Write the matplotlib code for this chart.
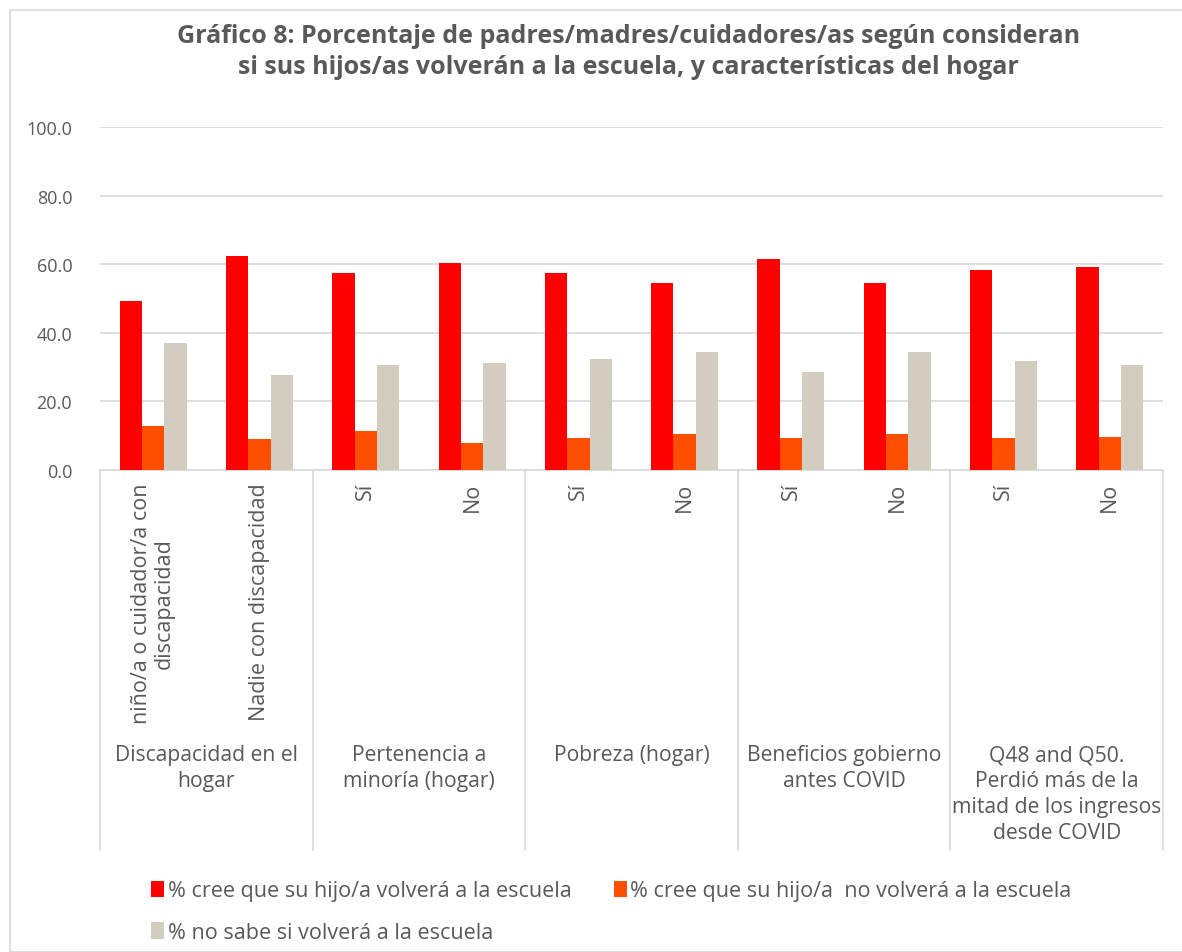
import numpy as np
import matplotlib.pyplot as plt
from matplotlib.patches import Rectangle

plt.rcParams['font.family'] = ['Open Sans', 'DejaVu Sans']

# datos
sub_labels = ['niño/a o cuidador/a con\ndiscapacidad', 'Nadie con discapacidad',
              'Sí', 'No', 'Sí', 'No', 'Sí', 'No', 'Sí', 'No']
group_labels = ['Discapacidad en el\nhogar', 'Pertenencia a\nminoría (hogar)',
                'Pobreza (hogar)', 'Beneficios gobierno\nantes COVID',
                'Q48 and Q50.\nPerdió más de la\nmitad de los ingresos\ndesde COVID']
volvera = [49.4, 62.3, 57.3, 60.3, 57.5, 54.4, 61.4, 54.6, 58.4, 59.1]
no_volvera = [12.9, 9.1, 11.4, 7.8, 9.3, 10.5, 9.4, 10.4, 9.4, 9.6]
no_sabe = [37.0, 27.8, 30.6, 31.2, 32.4, 34.4, 28.5, 34.3, 31.7, 30.5]
series_names = ['% cree que su hijo/a volverá a la escuela',
                '% cree que su hijo/a  no volverá a la escuela',
                '% no sabe si volverá a la escuela']

colores = ['#FF0000', '#FF4E00', '#D3CDBF']
txt = '#595959'
grid = '#D9D9D9'

fig = plt.figure(figsize=(11.82, 9.53), dpi=100)
ax = fig.add_axes([100/1182, 1-471/953, (1163-100)/1182, 343/953])

x = np.arange(len(volvera))
w = 0.21
bars = []
for i, (vals, c, n) in enumerate(zip([volvera, no_volvera, no_sabe], colores, series_names)):
    bars.append(ax.bar(x + (i-1)*w, vals, w, color=c, label=n, zorder=3))

ax.set_xlim(-0.5, len(x)-0.5)
ax.set_ylim(0, 100)
ax.set_yticks(np.arange(0, 101, 20))
ax.set_yticklabels(['%.1f' % v for v in np.arange(0, 101, 20)], color=txt, fontsize=13)
ax.tick_params(axis='y', length=0, pad=20)
ax.set_xticks([])
ax.grid(axis='y', color=grid, linewidth=1.2, zorder=0)
for s in ['top', 'right', 'left']:
    ax.spines[s].set_visible(False)
ax.spines['bottom'].set_color(grid)
ax.spines['bottom'].set_linewidth(1.2)

tr = ax.get_xaxis_transform()
for xi, lab in zip(x, sub_labels):
    ax.text(xi, -0.035, lab, transform=tr, rotation=90, ha='center', va='top',
            multialignment='center', fontsize=15.5, color=txt, linespacing=1.1)
for g, lab in enumerate(group_labels):
    ax.text(2*g + 0.5, -0.80, lab, transform=tr, ha='center', va='top',
            fontsize=15.2, color=txt, linespacing=1.3)
for b in range(6):
    ax.plot([2*b - 0.5, 2*b - 0.5], [0, -1.107], transform=tr, color=grid,
            linewidth=1.2, clip_on=False)

fig.text(0.532, 1-24/953,
         'Gráfico 8: Porcentaje de padres/madres/cuidadores/as según consideran\n'
         'si sus hijos/as volverán a la escuela, y características del hogar',
         ha='center', va='top', fontsize=18, fontweight='bold', color=txt, linespacing=1.3)

# orden para que se llene por filas
h = [bars[0], bars[2], bars[1]]
l = [series_names[0], series_names[2], series_names[1]]
fig.legend(h, l, loc='upper left', bbox_to_anchor=(132/1182, 1-862/953), ncol=2, frameon=False,
           fontsize=15.5, labelcolor=txt, handlelength=0.6, handleheight=0.8,
           handletextpad=0.15, columnspacing=2.0, labelspacing=0.95)

fig.patches.append(Rectangle((10/1182, 0), 1, 1-11/953, transform=fig.transFigure,
                             fill=False, edgecolor=grid, linewidth=1.2))

fig.savefig('out.png', dpi=100)
